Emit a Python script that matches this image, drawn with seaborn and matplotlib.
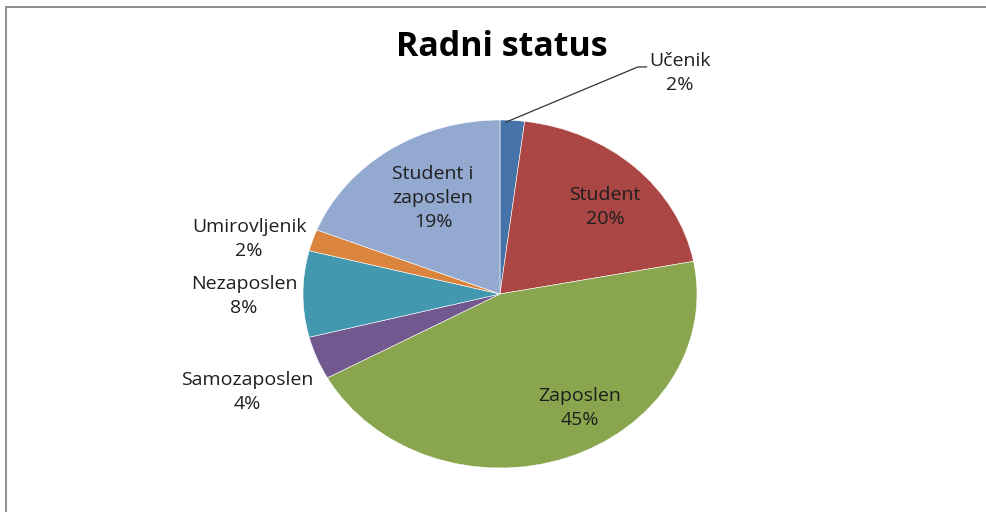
import matplotlib
matplotlib.use("Agg")
import matplotlib.pyplot as plt
import seaborn as sns
import numpy as np
from matplotlib.patches import Rectangle

# Employment status shares (percent)
categories = ["Učenik", "Student", "Zaposlen", "Samozaposlen", "Nezaposlen",
              "Umirovljenik", "Student i zaposlen"]
shares = [2, 20, 45, 4, 8, 2, 19]
label_names = ["Učenik", "Student", "Zaposlen", "Samozaposlen", "Nezaposlen",
               "Umirovljenik", "Student i\nzaposlen"]
slice_colors = ["#4572A7", "#AA4643", "#89A54E", "#71588F", "#4198AF",
                "#DB843D", "#93A9CF"]
title = "Radni status"

sns.set_theme(style="white")
plt.rcParams["font.family"] = ["Open Sans", "DejaVu Sans"]

W, H = 987, 512
fig = plt.figure(figsize=(W / 100, H / 100), dpi=100)
fig.patch.set_facecolor("white")

# chart frame (open on right/bottom edges of the canvas)
frame = Rectangle((6 / W, -0.1), 1.2, (H - 7) / H + 0.1, transform=fig.transFigure,
                  fill=False, edgecolor="#8c8c8c", linewidth=1.4)
fig.patches.append(frame)

# pie area (elliptical, the axes aspect is left free)
left, right, top, bottom = 303, 697, 120, 468
ax = fig.add_axes([left / W, (H - bottom) / H, (right - left) / W, (bottom - top) / H])

wedges, _ = ax.pie(shares, colors=slice_colors, startangle=90, counterclock=False,
                   radius=1.0, center=(0, 0), frame=False,
                   wedgeprops=dict(edgecolor="white", linewidth=0.4))
ax.set_xlim(-1, 1)
ax.set_ylim(-1, 1)
ax.set_aspect("auto")
ax.axis("off")

# label anchor points in axes data units
label_pos = [(0.914, 1.270), (0.533, 0.50), (0.406, -0.655), (-1.284, -0.563),
             (-1.30, -0.011), (-1.274, 0.316), (-0.340, 0.552)]

for name, val, (lx, ly) in zip(label_names, shares, label_pos):
    ax.text(lx, ly, f"{name}\n{val}%", ha="center", va="center", fontsize=14,
            color="#1f1f1f", linespacing=1.42, clip_on=False)

# leader line for the small first slice
cum = np.cumsum([0] + shares[:-1])
mid = np.deg2rad((cum[0] + shares[0] / 2) / sum(shares) * 360)
ex, ey = np.sin(mid) * 0.97, np.cos(mid) * 0.99
knee = (0.70, 1.305)
end = (0.745, 1.305)
ax.plot([ex - 0.03, knee[0], end[0]], [ey, knee[1], end[1]], color="#333333",
        linewidth=0.9, clip_on=False)

fig.text(502 / W, 1 - 47 / H, title, ha="center", va="center", fontsize=24.5,
         fontweight="bold", color="black")

fig.savefig("out.png", dpi=100)
